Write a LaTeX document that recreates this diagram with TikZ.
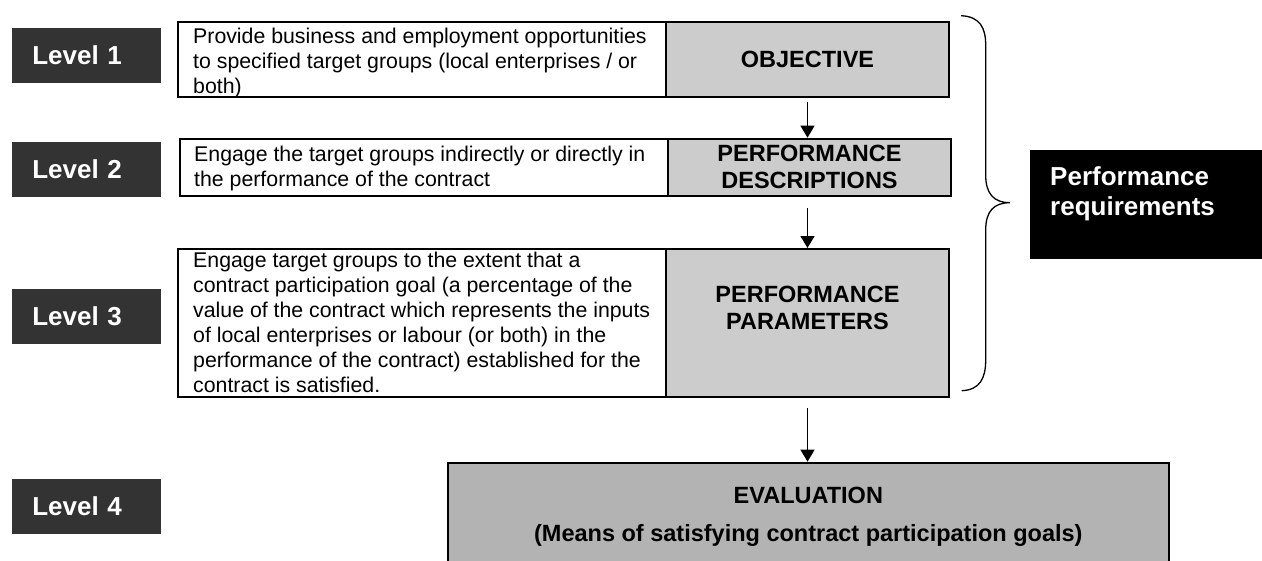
\documentclass[tikz,border=0pt]{standalone}
\usepackage{fontspec}
\setmainfont{Liberation Sans}
\usetikzlibrary{arrows.meta}
\definecolor{lvl}{HTML}{333333}
\definecolor{lgray}{HTML}{CCCCCC}
\definecolor{mgray}{HTML}{B3B3B3}
\begin{document}
\begin{tikzpicture}[x=1pt,y=-1pt,
  lvlbox/.style={fill=lvl, text=white, font=\fontsize{26}{30}\selectfont\bfseries,
    inner xsep=20.3pt, inner ysep=0pt, text width=108.4pt, align=left,
    minimum height=54.7pt},
  txtbox/.style={draw, line width=2pt, fill=white, inner sep=0pt},
  txtlbl/.style={font=\fontsize{21.3}{25}\selectfont, align=left, inner sep=0pt, anchor=west},
  graybox/.style={draw, line width=2pt, fill=lgray, inner sep=0pt, minimum width=283.6pt,
    align=center, font=\fontsize{23.5}{27}\selectfont\bfseries},
  boldlbl/.style={align=center, inner sep=0pt, font=\fontsize{23.5}{27}\selectfont\bfseries},
  arr/.style={line width=1.3pt, -{Triangle[length=12pt,width=14pt]}},
  bracestyle/.style={line width=1.3pt}
]
\useasboundingbox (0,0) rectangle (1262,560);
\clip (0,0) rectangle (1262,560);

% level labels
\node[lvlbox] (L1) at (86.5,55.35) {Level 1};
\node[lvlbox] (L2) at (86.5,169.35) {Level 2};
\node[lvlbox] (L3) at (86.5,316.5) {Level 3};
\node[lvlbox] (L4) at (86.5,506.5) {Level 4};

% text boxes
\node[txtbox, minimum width=487.4pt, minimum height=75.6pt] (t1) at (422,59.5) {};
\node[txtlbl] (t1x) at (193,62.9) {Provide business and employment opportunities\\to specified target groups (local enterprises / or\\both)};
\node[txtbox, minimum width=487.4pt, minimum height=57.3pt] (t2) at (424,167.35) {};
\node[txtlbl] (t2x) at (194,168.7) {Engage the target groups indirectly or directly in\\the performance of the contract};
\node[txtbox, minimum width=487.4pt, minimum height=148pt] (t3) at (422,323) {};
\node[txtlbl] (t3x) at (193,322) {Engage target groups to the extent that a\\contract participation goal (a percentage of the\\value of the contract which represents the inputs\\of local enterprises or labour (or both) in the\\performance of the contract) established for the\\contract is satisfied.};

% gray boxes
\node[graybox, minimum height=75.6pt] (obj) at (807.5,59.5) {OBJECTIVE};
\node[graybox, minimum height=57.3pt] (desc) at (809.5,167.35) {PERFORMANCE\\DESCRIPTIONS};
\node[graybox, minimum height=148pt] (par) at (807.5,323) {};
\node[boldlbl] (partxt) at (807.5,308) {PERFORMANCE\\PARAMETERS};

% evaluation
\node[draw, line width=2pt, fill=mgray, inner sep=0pt, minimum width=721.3pt, minimum height=112.6pt] (eval) at (808.35,519) {};
\node[boldlbl, font=\fontsize{23.5}{38}\selectfont\bfseries] (evaltxt) at (808.35,516.3) {EVALUATION\\(Means of satisfying contract participation goals)};

% performance requirements
\node[fill=black, inner sep=0pt, minimum width=235pt, minimum height=108.4pt] (perf) at (1147.5,204.5) {};
\node[text=white, align=left, inner sep=0pt, anchor=west, font=\fontsize{26}{30}\selectfont\bfseries] (perftxt) at (1050,193.3) {Performance\\requirements};

% arrows
\draw[arr] ([yshift=-4pt]obj.south) -- (obj.south |- desc.north);
\draw[arr] ([yshift=-11pt]par.north |- desc.south) -- (par.north);
\draw[arr] ([yshift=-10pt]par.south) -- (par.south |- eval.north);

% brace
\draw[bracestyle] (961,15.7) .. controls (980,16.5) and (985.7,28) .. (985.7,45)
  -- (985.7,175) .. controls (985.7,194) and (994,202.7) .. (1010,202.7)
  .. controls (994,202.7) and (985.7,211) .. (985.7,230)
  -- (985.7,360) .. controls (985.7,378) and (980,390) .. (961.7,390.7);
\end{tikzpicture}
\end{document}
